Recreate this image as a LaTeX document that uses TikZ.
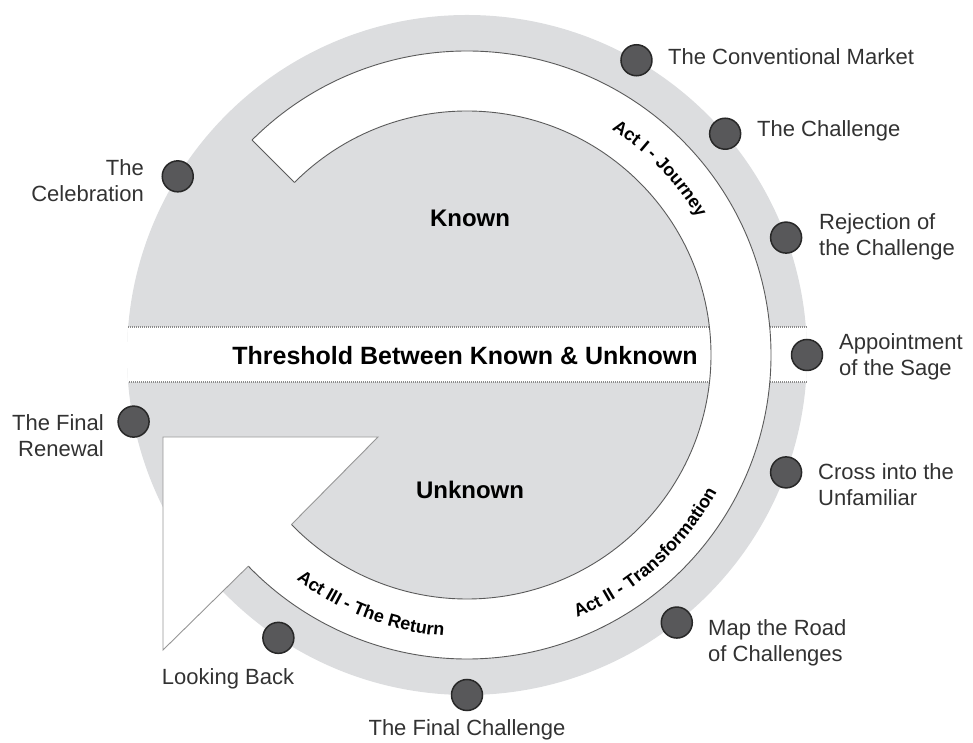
\documentclass[tikz,border=0pt]{standalone}
\usepackage{fontspec}
\setmainfont{Liberation Sans}
\usetikzlibrary{calc,decorations.text}
\definecolor{lightband}{RGB}{220,221,223}
\definecolor{dotfill}{RGB}{88,88,90}
\definecolor{dotedge}{RGB}{40,40,40}
\definecolor{labelgray}{RGB}{50,50,50}
\definecolor{ringedge}{RGB}{90,90,90}
\definecolor{arrowedge}{RGB}{150,150,150}
\definecolor{dotgray}{RGB}{140,140,140}
\begin{document}
\begin{tikzpicture}[x=1pt,y=1pt,
  dot/.style={circle,minimum size=31pt,inner sep=0pt,fill=dotfill,draw=dotedge,line width=1.5pt},
  lbl/.style={inner sep=0pt,text=labelgray,font=\fontsize{22}{26}\selectfont},
  big/.style={inner sep=0pt,font=\bfseries\fontsize{24}{28}\selectfont},
  ringline/.style={draw=ringedge,line width=0.9pt},
  arrline/.style={draw=arrowedge,line width=0.9pt},
  dotline/.style={draw=dotgray,line width=1.2pt,dash pattern=on 0.8pt off 1.2pt},
  actpath/.style={decorate,decoration={text along path,text align=center}}
]
\useasboundingbox (0,0) rectangle (973,743);
\coordinate (C) at (467,388);

% outer gray disc
\fill[lightband] (C) circle[radius=340];

% threshold band
\begin{scope}
  \clip (C) circle[radius=340];
  \fill[white] (100,361) rectangle (850,416);
\end{scope}
\draw[dotline] (128.2,416) -- (709.4,416);
\draw[dotline] (128.8,361) -- (709.9,361);
\draw[dotline] (769.7,416) -- (805.8,416);
\draw[dotline] (770.1,361) -- (806.3,361);

% white journey ring with arrow head
\fill[white] ($(C)+(135:304)$) arc[start angle=135,end angle=-136,radius=304]
  -- (163,93) -- (163,306) -- (378,306)
  -- ($(C)+(-136:244)$) arc[start angle=-136,end angle=135,radius=244] -- cycle;
\draw[ringline] ($(C)+(135:304)$) arc[start angle=135,end angle=-136,radius=304];
\draw[ringline] ($(C)+(135:244)$) arc[start angle=135,end angle=-136,radius=244];
\draw[ringline] ($(C)+(135:244)$) -- ($(C)+(135:304)$);
\draw[arrline] ($(C)+(-136:304)$) -- (163,93) -- (163,306) -- (378,306) -- ($(C)+(-136:244)$);

% central texts
\node[big] (known) at (470,525) {Known};
\node[big] (unknown) at (470,253) {Unknown};
\node[inner sep=0pt,font=\bfseries\fontsize{25}{28}\selectfont] (threshold) at (465,387) {Threshold Between Known \& Unknown};

% act texts along the ring
\path[actpath,decoration={text={|\bfseries\fontsize{18}{20}\selectfont|Act I - Journey}}]
  ($(C)+(63:268)$) arc[start angle=63,end angle=25,radius=268];
\path[actpath,decoration={text={|\bfseries\fontsize{18}{20}\selectfont|Act II - Transformation}}]
  ($(C)+(-72:285)$) arc[start angle=-72,end angle=-24,radius=285];
\path[actpath,decoration={text={|\bfseries\fontsize{18}{20}\selectfont|Act III - The Return}}]
  ($(C)+(227:282)$) arc[start angle=227,end angle=271,radius=282];

% milestone dots
\node[dot] (market) at ($(C)+(60.1:340)$) {};
\node[dot] (challenge) at ($(C)+(40.6:340)$) {};
\node[dot] (rejection) at ($(C)+(20.2:340)$) {};
\node[dot] (sage) at ($(C)+(0:340)$) {};
\node[dot] (cross) at ($(C)+(-20.2:340)$) {};
\node[dot] (road) at ($(C)+(-51.9:340)$) {};
\node[dot] (finalch) at ($(C)+(-90:340)$) {};
\node[dot] (looking) at ($(C)+(-123.7:340)$) {};
\node[dot] (renewal) at ($(C)+(191.3:340)$) {};
\node[dot] (celebration) at ($(C)+(148.3:340)$) {};

% labels
\node[lbl,anchor=west] (tmarket) at (668,686) {The Conventional Market};
\node[lbl,anchor=west] (tchallenge) at (757,612) {The Challenge};
\node[lbl,anchor=west,align=left] (trejection) at (819,506) {Rejection of\\the Challenge};
\node[lbl,anchor=west,align=left] (tsage) at (839,386) {Appointment\\of the Sage};
\node[lbl,anchor=west,align=left] (tcross) at (818,258) {Cross into the\\Unfamiliar};
\node[lbl,anchor=west,align=left] (troad) at (708,100) {Map the Road\\of Challenges};
\node[lbl] (tfinalch) at (467,13) {The Final Challenge};
\node[lbl] (tlooking) at (228,64) {Looking Back};
\node[lbl,anchor=east,align=right] (trenewal) at (104,307) {The Final\\Renewal};
\node[lbl,anchor=east,align=right] (tcelebration) at (144,562) {The\\Celebration};
\end{tikzpicture}
\end{document}
